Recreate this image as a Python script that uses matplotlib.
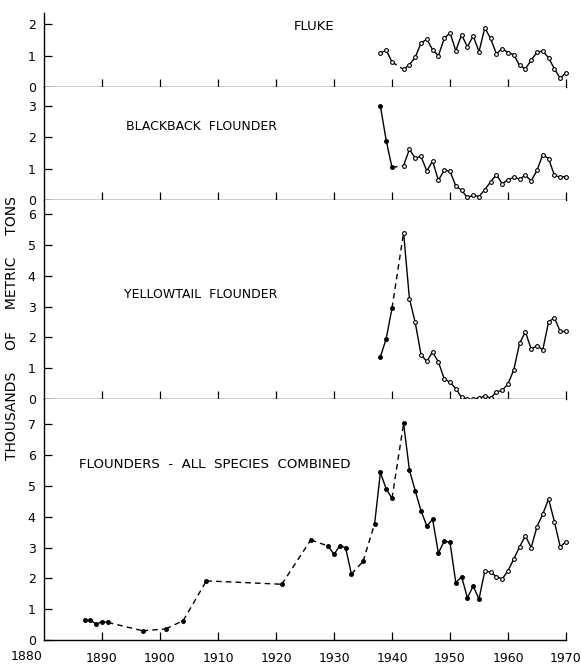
import matplotlib
matplotlib.use("Agg")
import matplotlib.pyplot as plt

# figure size in pixels
W, H = 581, 664

# ---- data (thousands of metric tons) ----
fluke_years = [1938, 1939, 1940] + list(range(1942, 1971))
fluke_vals = [1.08, 1.18, 0.80,
              0.56, 0.71, 0.95, 1.40, 1.53, 1.19, 1.00, 1.55, 1.73, 1.16,
              1.67, 1.28, 1.63, 1.13, 1.89, 1.55, 1.06, 1.23, 1.10, 1.03,
              0.69, 0.58, 0.86, 1.11, 1.15, 0.93, 0.58, 0.28, 0.46]

blackback_years = [1938, 1939, 1940] + list(range(1942, 1971))
blackback_vals = [3.00, 1.90, 1.04,
                  1.10, 1.62, 1.34, 1.39, 0.93, 1.24, 0.63, 0.95, 0.92, 0.45,
                  0.31, 0.08, 0.15, 0.11, 0.33, 0.58, 0.81, 0.52, 0.65, 0.72,
                  0.67, 0.79, 0.61, 0.95, 1.45, 1.32, 0.79, 0.73, 0.75]

yellowtail_years = [1938, 1939, 1940] + list(range(1942, 1971))
yellowtail_vals = [1.37, 1.96, 2.95,
                   5.40, 3.26, 2.49, 1.44, 1.22, 1.53, 1.20, 0.66, 0.54, 0.34,
                   0.05, 0.00, 0.00, 0.03, 0.10, 0.03, 0.23, 0.28, 0.49, 0.95,
                   1.81, 2.18, 1.62, 1.73, 1.60, 2.51, 2.63, 2.20, 2.20]

combined_years = [1887, 1888, 1889, 1890, 1891, 1897, 1901, 1904, 1908,
                  1921, 1926, 1929, 1930, 1931, 1932, 1933, 1935, 1937,
                  1938, 1939, 1940] + list(range(1942, 1971))
combined_vals = [0.65, 0.65, 0.51, 0.60, 0.57, 0.30, 0.36, 0.63, 1.92,
                 1.81, 3.25, 3.05, 2.78, 3.06, 3.00, 2.14, 2.55, 3.77,
                 5.44, 4.90, 4.60,
                 7.03, 5.52, 4.85, 4.20, 3.70, 3.92, 2.82, 3.21, 3.17,
                 1.86, 2.06, 1.37, 1.75, 1.33,
                 2.24, 2.20, 2.06, 1.98, 2.25,
                 2.63, 3.03, 3.38, 3.00, 3.68,
                 4.09, 4.58, 3.84, 3.03, 3.19]

decades = list(range(1890, 1971, 10))

# (title, years, values, top px, baseline px, y ticks, title pos, title size, filled before)
panels = [
    ("FLUKE", fluke_years, fluke_vals, 13, 87, range(0, 3), (314, 27), 9.5, 0),
    ("BLACKBACK  FLOUNDER", blackback_years, blackback_vals, 87, 200,
     range(0, 4), (202, 126), 9, 1941),
    ("YELLOWTAIL  FLOUNDER", yellowtail_years, yellowtail_vals, 200, 399,
     range(0, 7), (201, 295), 9, 1942),
    ("FLOUNDERS  -  ALL  SPECIES  COMBINED", combined_years, combined_vals,
     399, 640, range(0, 8), (215, 464), 9.6, 1956),
]
px_per_unit = [31.3, 31.3, 30.8, 30.8]

fig = plt.figure(figsize=(W / 100, H / 100), dpi=100)
left, right = 44, 566

for i, (title, yrs, vals, top, base, yt, tpos, tsize, filled_before) in enumerate(panels):
    ax = fig.add_axes([left / W, 1 - base / H, (right - left) / W, (base - top) / H])
    ax.set_xlim(1880, 1970)
    ax.set_ylim(0, (base - top) / px_per_unit[i])

    # solid between consecutive years, dashed across gaps
    for k in range(len(yrs) - 1):
        ls = "-" if yrs[k + 1] - yrs[k] == 1 else (0, (4, 3))
        ax.plot(yrs[k:k + 2], vals[k:k + 2], color="black", lw=1.0,
                ls=ls, clip_on=False, zorder=2)
    for y, v in zip(yrs, vals):
        fc = "black" if y < filled_before else "white"
        ax.plot(y, v, marker="o", ms=2.7, mfc=fc, mec="black", mew=0.8,
                clip_on=False, zorder=3, ls="none")

    for s in ("top", "right"):
        ax.spines[s].set_visible(False)
    for s in ("left", "bottom"):
        ax.spines[s].set_linewidth(1.0)

    ax.set_yticks(list(yt))
    ax.set_yticklabels([str(t) for t in yt], fontsize=9)
    ax.set_xticks(decades)
    ax.tick_params(axis="both", direction="in", length=6, width=0.9)
    ax.tick_params(axis="y", pad=6)
    if i < 3:
        ax.set_xticklabels([])
    else:
        ax.set_xticklabels([str(d) for d in decades], fontsize=9)
        ax.tick_params(axis="x", pad=9)

    fig.text(tpos[0] / W, 1 - tpos[1] / H, title, ha="center", va="center",
             fontsize=tsize)

# first year label sits left of the axis corner
fig.text(27 / W, 1 - 656 / H, "1880", ha="center", va="center", fontsize=9)

fig.text(12 / W, 1 - 328 / H, "THOUSANDS     OF     METRIC     TONS",
         rotation=90, ha="center", va="center", fontsize=10)

fig.savefig("out.png", dpi=100)
